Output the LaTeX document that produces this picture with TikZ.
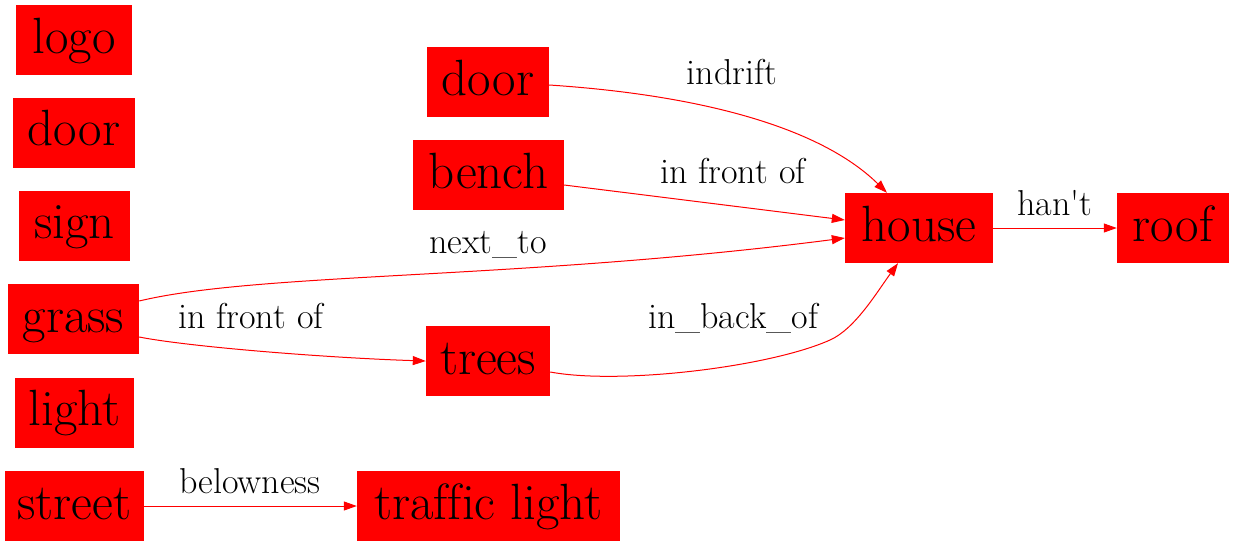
\documentclass[tikz,border=0pt]{standalone}
\usepackage{fontspec}
\usetikzlibrary{arrows.meta}
\begin{document}
\begin{tikzpicture}[x=1pt,y=-1pt,
 obj/.style={fill=red, inner sep=0pt, minimum height=70pt, text height=35pt, text depth=9pt, font=\rmfamily\fontsize{51}{56}\selectfont},
 rel/.style={draw=red, line width=1pt, -{Triangle[length=13pt,width=9pt]}},
 lab/.style={anchor=base, inner sep=0pt, font=\rmfamily\fontsize{36}{42}\selectfont}]
\useasboundingbox (0,0) rectangle (1235,547);
% left column
\node[obj, minimum width=116pt] (logo)  at (74,40)    {logo};
\node[obj, minimum width=122pt] (door1) at (74,132.5) {door};
\node[obj, minimum width=111pt] (sign)  at (74.5,225.5) {sign};
\node[obj, minimum width=131pt] (grass) at (73.5,319) {grass};
\node[obj, minimum width=119pt] (light) at (74.5,412.5) {light};
\node[obj, minimum width=139pt] (street) at (74.5,506) {street};
% middle column
\node[obj, minimum width=122pt] (door2) at (488,82)   {door};
\node[obj, minimum width=151pt] (bench) at (488.5,175) {bench};
\node[obj, minimum width=124pt] (trees) at (488,361)  {trees};
\node[obj, minimum width=263pt] (traffic) at (488.5,506) {traf\kern0ptf\kern0ptic light};
% right
\node[obj, minimum width=148pt] (house) at (919,228) {house};
\node[obj, minimum width=112pt] (roof)  at (1173,228) {roof};
% edges
\draw[rel] ([yshift=-3pt]door2.east) .. controls (700,95) and (820,127) .. ([xshift=-32pt]house.north);
\draw[rel] ([yshift=-10pt]bench.east) -- ([yshift=8pt]house.west);
\draw[rel] ([yshift=18pt]grass.east) .. controls (260,272) and (520,280) .. ([yshift=-10pt]house.west);
\draw[rel] ([yshift=-18pt]grass.east) .. controls (190,347) and (330,358) .. (trees.west);
\draw[rel] ([yshift=-11pt]trees.east) .. controls (620,385) and (770,367) .. (830,340) .. controls (855,329) and (877,292) .. ([xshift=-21pt]house.south);
\draw[rel] (house.east) -- (roof.west);
\draw[rel] (street.east) -- (traffic.west);
% labels
\node[lab] (l1) at (732,84)  {indrift};
\node[lab] (l2) at (733,183) {in front of};
\node[lab] (l3) at (488,253) {next\_to};
\node[lab] (l4) at (251,328) {in front of};
\node[lab] (l5) at (733,328) {in\_back\_of};
\node[lab] (l6) at (1055,215) {han\textquotesingle t};
\node[lab] (l7) at (250,493) {belowness};
\end{tikzpicture}
\end{document}
